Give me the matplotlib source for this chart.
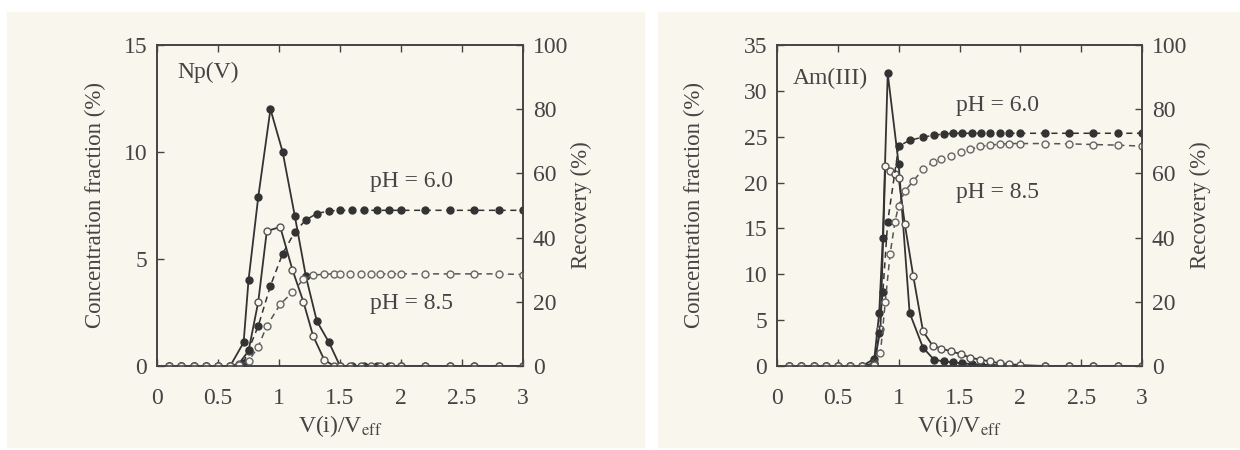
import matplotlib.pyplot as plt
from matplotlib.patches import Rectangle

plt.rcParams['font.family'] = ['Liberation Serif', 'DejaVu Serif']
plt.rcParams['mathtext.fontset'] = 'stix'

# ---- Np(V) panel ----
np_x6 = [0.1, 0.2, 0.3, 0.4, 0.5, 0.6, 0.71, 0.75, 0.83, 0.93, 1.03, 1.13, 1.22,
         1.31, 1.41, 1.5, 1.6, 1.7, 1.8, 1.9, 2.0, 2.2, 2.4, 2.6, 2.8, 3.0]
np_conc6 = [0, 0, 0, 0, 0, 0, 1.1, 4.0, 7.9, 12.0, 10.0, 7.0, 4.2,
            2.1, 1.1, 0, 0, 0, 0, 0, 0, 0, 0, 0, 0, 0]
np_rec6 = [0, 0, 0, 0, 0, 0, 1.0, 5.0, 12.5, 25.0, 35.0, 41.8, 45.5,
           47.5, 48.3, 48.5, 48.5, 48.5, 48.5, 48.5, 48.5, 48.5, 48.5, 48.5, 48.5, 48.5]

np_x85 = [0.1, 0.2, 0.3, 0.4, 0.5, 0.6, 0.67, 0.75, 0.83, 0.9, 1.01, 1.11, 1.2, 1.28,
          1.37, 1.45, 1.5, 1.58, 1.67, 1.75, 1.83, 1.92, 2.0, 2.2, 2.4, 2.6, 2.8, 3.0]
np_conc85 = [0, 0, 0, 0, 0, 0, 0.1, 0.7, 3.0, 6.3, 6.5, 4.5, 3.0, 1.4,
             0.3, 0, 0, 0, 0, 0, 0, 0, 0, 0, 0, 0, 0, 0]
np_rec85 = [0, 0, 0, 0, 0, 0, 0.2, 1.5, 6.0, 12.5, 19.2, 23.0, 27.0, 28.3,
            28.6, 28.7, 28.7, 28.7, 28.7, 28.7, 28.7, 28.7, 28.7, 28.7, 28.7, 28.7, 28.7, 28.5]

# ---- Am(III) panel ----
am_x6 = [0.1, 0.2, 0.3, 0.4, 0.5, 0.6, 0.7, 0.8, 0.84, 0.87, 0.91, 1.0, 1.09, 1.2,
         1.29, 1.37, 1.45, 1.52, 1.6, 1.68, 1.75, 1.83, 1.91, 2.0, 2.2, 2.4, 2.6, 2.8, 3.0]
am_conc6 = [0, 0, 0, 0, 0, 0, 0, 0.8, 5.8, 14.0, 31.9, 22.0, 5.8, 2.0,
            0.7, 0.5, 0.4, 0.3, 0.2, 0.15, 0.1, 0.1, 0.05, 0, 0, 0, 0, 0, 0]
am_rec6 = [0, 0, 0, 0, 0, 0, 0, 0.5, 10.4, 23.0, 45.0, 68.5, 70.3, 71.3,
           71.9, 72.3, 72.5, 72.5, 72.5, 72.5, 72.5, 72.5, 72.5, 72.5, 72.5, 72.5, 72.5, 72.5, 72.5]

am_x85 = [0.1, 0.2, 0.3, 0.4, 0.5, 0.6, 0.7, 0.8, 0.85, 0.89, 0.93, 0.97, 1.0, 1.05, 1.12,
          1.2, 1.28, 1.35, 1.43, 1.51, 1.59, 1.67, 1.75, 1.83, 1.91, 2.0, 2.2, 2.4, 2.6, 2.8, 3.0]
am_conc85 = [0, 0, 0, 0, 0, 0, 0, 0.3, 4.0, 21.8, 21.3, 20.9, 20.5, 15.5, 9.8,
             3.8, 2.2, 1.9, 1.6, 1.3, 0.9, 0.7, 0.5, 0.3, 0.2, 0.1, 0, 0, 0, 0, 0]
am_rec85 = [0, 0, 0, 0, 0, 0, 0, 0.3, 4.0, 20.0, 35.0, 45.0, 50.0, 54.5, 57.6,
            61.3, 63.5, 64.4, 65.5, 66.7, 67.5, 68.4, 68.8, 69.1, 69.3, 69.3, 69.3, 69.2, 69.0, 68.8, 68.5]

line_c = '#333333'
text_c = '#444444'
paper = '#f9f6ee'
fs = 17

fig = plt.figure(figsize=(12.4, 4.5), dpi=100)
fig.patch.set_facecolor('white')
# scanned paper background behind each panel
for x0, w in [(7, 637), (658, 582)]:
    fig.patches.append(Rectangle((x0 / 1240, 3 / 450), w / 1240, 435 / 450,
                                 transform=fig.transFigure, color=paper, zorder=-10))


def panel(rect, ymax, yticks, x6, c6, r6, x85, c85, r85,
          name, name_x, name_y, lab_x, lab6_y, lab85_y, ylab_pad):
    ax = fig.add_axes(rect)
    ax.set_facecolor('none')
    ax2 = ax.twinx()
    ax.plot(x6, c6, '-', color=line_c, lw=1.3, marker='o', ms=5,
            mfc=line_c, mec=line_c, zorder=3)
    ax.plot(x85, c85, '-', color=line_c, lw=1.3, marker='o', ms=5,
            mfc=paper, mec='#555555', mew=1.0, zorder=3)
    ax2.plot(x6, r6, '--', color=line_c, lw=1.1, dashes=(4, 3), marker='o', ms=5,
             mfc=line_c, mec=line_c)
    ax2.plot(x85, r85, '--', color='#555555', lw=1.1, dashes=(4, 3), marker='o', ms=5,
             mfc=paper, mec='#666666', mew=1.0)
    ax.set_xlim(0, 3)
    ax.set_ylim(0, ymax)
    ax2.set_ylim(0, 100)
    ax.set_xticks([0, 0.5, 1, 1.5, 2, 2.5, 3])
    ax.set_xticklabels(['0', '0.5', '1', '1.5', '2', '2.5', '3'])
    ax.set_yticks(yticks)
    ax2.set_yticks([0, 20, 40, 60, 80, 100])
    for a in (ax, ax2):
        a.tick_params(direction='in', length=5, width=1, colors=text_c,
                      labelsize=fs, pad=7)
        for s in a.spines.values():
            s.set_color('#444444')
            s.set_linewidth(1.2)
    ax.tick_params(axis='x', top=True, pad=16)
    ax.set_xlabel('V(i)/V$_{\\mathrm{eff}}$', fontsize=fs, color=text_c, labelpad=3)
    ax.set_ylabel('Concentration fraction (%)', fontsize=16.5, color=text_c,
                  labelpad=ylab_pad)
    ax2.set_ylabel('Recovery (%)', fontsize=16.5, color=text_c, labelpad=2)
    ax.text(name_x, name_y, name, fontsize=fs, color=text_c, ha='left', va='center')
    ax.text(lab_x, lab6_y, 'pH = 6.0', fontsize=fs, color=text_c, ha='center', va='center')
    ax.text(lab_x, lab85_y, 'pH = 8.5', fontsize=fs, color=text_c, ha='center', va='center')
    return ax


panel([157 / 1240, 84 / 450, 366 / 1240, 321 / 450], 15, [0, 5, 10, 15],
      np_x6, np_conc6, np_rec6, np_x85, np_conc85, np_rec85,
      'Np(V)', 0.17, 13.7, 2.09, 8.6, 2.9, 13)
panel([777 / 1240, 84 / 450, 365 / 1240, 321 / 450], 35, [0, 5, 10, 15, 20, 25, 30, 35],
      am_x6, am_conc6, am_rec6, am_x85, am_conc85, am_rec85,
      'Am(III)', 0.13, 31.3, 1.81, 28.4, 18.9, 28)

fig.savefig('out.png', dpi=100, facecolor=fig.get_facecolor())
